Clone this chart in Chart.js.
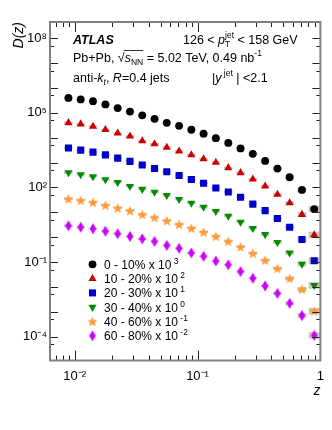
<!DOCTYPE html>
<html><head><meta charset="utf-8">
<script src="https://cdn.jsdelivr.net/npm/chart.js@4.4.1/dist/chart.umd.min.js"></script>
<style>html,body{margin:0;padding:0;background:#fff;}canvas{display:block;}</style>
</head><body>
<canvas id="c" width="332" height="430"></canvas>
<script>
// ---------------- data ----------------
const zValues = [0.0089,0.0112,0.0141,0.0178,0.0224,0.0282,0.0355,0.0447,0.0562,0.0708,0.0891,0.112,0.141,0.178,0.224,0.282,0.355,0.447,0.562,0.708,0.891];
const cent0_10  = [398000,347000,295000,219000,155000,112000,79400,57500,39800,30200,20900,14500,9550,6170,3720,2240,1170,575,257,79.4,13.5];
const cent10_20 = [39800,35500,28200,20900,15100,11500,7410,5620,4070,2880,2040,1410,1020,617,389,214,112,52.5,24.0,8.13,1.23];
const cent20_30 = [3890,3160,2630,2040,1510,1120,794,575,427,302,209,148,95.5,66.1,40.7,21.4,11.7,5.62,2.51,0.813,0.112];
const cent30_40 = [398,331,275,209,162,112,85.1,64.6,47.9,33.1,23.4,16.2,11.0,7.08,4.07,2.29,1.29,0.617,0.234,0.0832,0.0115];
const cent40_60 = [34.7,30.2,25.1,19.1,14.8,11.5,8.13,6.17,4.57,3.24,2.29,1.58,1.07,0.676,0.407,0.224,0.117,0.055,0.0219,0.00794,0.00107];
const cent60_80 = [2.88,2.51,2.19,1.74,1.38,1.07,0.851,0.676,0.468,0.355,0.234,0.170,0.110,0.0776,0.0417,0.0224,0.0110,0.0055,0.00219,0.000708,0.000112];
const sysRel = [0.12,0.1,0.1,0.1,0.1,0.1,0.1,0.1,0.1,0.1,0.1,0.1,0.1,0.1,0.1,0.12,0.12,0.14,0.18,0.25,0.35];
const seriesLabels = ['0 - 10% x 10','10 - 20% x 10','20 - 30% x 10','30 - 40% x 10','40 - 60% x 10','60 - 80% x 10'];
const seriesExponents = ['3','2','1','0','-1','-2'];
const xTickValues = [0.01,0.1,1];
const xTickLabels = ['10\u207B\u00B2','10\u207B\u00B9','1'];
const yTickValues = [1e8,1e5,1e2,1e-1,1e-4];
const yTickLabels = ['10\u2078','10\u2075','10\u00B2','10\u207B\u00B9','10\u207B\u2074'];

// ---------------- styles ----------------
const FONT = "'Liberation Sans', Arial, Helvetica, sans-serif";
Chart.defaults.font.family = FONT;

function makeStar(color){
  const c = document.createElement('canvas'); c.width = 12; c.height = 12;
  const g = c.getContext('2d'); g.fillStyle = color; g.beginPath();
  for (let k=0;k<10;k++){
    const r = k%2===0 ? 5.4 : 2.3;
    const a = -Math.PI/2 + k*Math.PI/5;
    const px = 6 + r*Math.cos(a), py = 6.4 + r*Math.sin(a);
    if (k===0) g.moveTo(px,py); else g.lineTo(px,py);
  }
  g.closePath(); g.fill(); return c;
}
function makeDiamond(color){
  const c = document.createElement('canvas'); c.width = 8; c.height = 12;
  const g = c.getContext('2d'); g.fillStyle = color; g.beginPath();
  g.moveTo(4,0.5); g.lineTo(7.3,6); g.lineTo(4,11.5); g.lineTo(0.7,6); g.closePath(); g.fill();
  return c;
}
const colors = ['#000000','#cc0000','#0000cc','#008c00','#ff9933','#cc00ff'];
const styles = [
  {pointStyle:'circle', radius:3.9, rotation:0},
  {pointStyle:'triangle', radius:4.7, rotation:0},
  {pointStyle:'rect', radius:5.0, rotation:0},
  {pointStyle:'triangle', radius:4.7, rotation:180},
  {pointStyle:makeStar(colors[4]), radius:5, rotation:0},
  {pointStyle:makeDiamond(colors[5]), radius:5, rotation:0}
];
const seriesValues = [cent0_10,cent10_20,cent20_30,cent30_40,cent40_60,cent60_80];

const datasets = seriesValues.map((vals,i)=>({
  label: seriesLabels[i],
  data: zValues.map((z,j)=>({x:z, y:vals[j]})),
  pointStyle: styles[i].pointStyle,
  pointRadius: styles[i].radius,
  pointRotation: styles[i].rotation,
  backgroundColor: colors[i],
  borderColor: colors[i],
  borderWidth: 0,
  showLine: false
}));

function drawRich(ctx, x, y, parts, size){
  let maxAdv = 0;
  for (const p of parts){
    const s = size*(p.s||1);
    ctx.font = (p.i?'italic ':'') + (p.b?'bold ':'') + s + 'px ' + FONT;
    ctx.fillText(p.t, x, y + (p.dy||0));
    const w = ctx.measureText(p.t).width;
    if (p.hold){ maxAdv = Math.max(maxAdv, w); continue; }
    x += Math.max(w, maxAdv) + (p.gap||0); maxAdv = 0;
  }
  return x;
}
function drawMarker(ctx, i, x, y){
  ctx.save();
  ctx.fillStyle = colors[i]; ctx.strokeStyle = colors[i];
  const st = styles[i];
  if (typeof st.pointStyle !== 'string'){
    const im = st.pointStyle; ctx.drawImage(im, x - im.width/2, y - im.height/2);
  } else {
    Chart.helpers.drawPoint(ctx, {pointStyle:st.pointStyle, radius:st.radius, rotation:st.rotation, borderWidth:0}, x, y);
  }
  ctx.restore();
}

const atlasPlugin = {
  id:'atlasDecor',
  beforeDatasetsDraw(chart){
    const ctx = chart.ctx, xs = chart.scales.x, ys = chart.scales.y;
    ctx.save();
    ctx.fillStyle = '#cdc4bb';
    seriesValues.forEach(vals=>{
      vals.forEach((v,j)=>{
        const hw = j===zValues.length-1 ? 1.11 : 1.085;
        const x1 = xs.getPixelForValue(zValues[j]/hw), x2 = xs.getPixelForValue(zValues[j]*hw);
        const y1 = ys.getPixelForValue(v*(1+sysRel[j])), y2 = ys.getPixelForValue(v/(1+sysRel[j]));
        ctx.fillRect(x1, y1, x2-x1, y2-y1);
      });
    });
    ctx.restore();
  },
  afterDatasetsDraw(chart){
    const ctx = chart.ctx, xs = chart.scales.x, ys = chart.scales.y, a = chart.chartArea;
    ctx.save();
    // ticks
    ctx.strokeStyle = '#222'; ctx.lineWidth = 1;
    ctx.beginPath();
    for (let d=-3; d<=0; d++){
      for (let m=1; m<=9; m++){
        const v = m*Math.pow(10,d);
        if (v < xs.min || v > xs.max*1.0001) continue;
        const px = Math.round(xs.getPixelForValue(v)) + 0.5;
        const L = m===1 ? 10 : 5;
        ctx.moveTo(px, a.bottom); ctx.lineTo(px, a.bottom - L);
        ctx.moveTo(px, a.top); ctx.lineTo(px, a.top + L);
      }
    }
    for (let d=-6; d<=9; d++){
      for (const m of [1,5]){
        const v = m*Math.pow(10,d);
        if (v < ys.min || v > ys.max) continue;
        const py = Math.round(ys.getPixelForValue(v)) + 0.5;
        const L = m===1 ? 8 : 4;
        ctx.moveTo(a.left, py); ctx.lineTo(a.left + L, py);
        ctx.moveTo(a.right, py); ctx.lineTo(a.right - L, py);
      }
    }
    ctx.stroke();
    // frame
    ctx.strokeStyle = '#808080'; ctx.lineWidth = 2;
    ctx.strokeRect(a.left, a.top, a.right - a.left, a.bottom - a.top);

    // header text
    ctx.fillStyle = '#000'; ctx.textBaseline = 'alphabetic'; ctx.textAlign = 'left';
    drawRich(ctx, 73, 43.5, [{t:'ATLAS', b:true, i:true}], 12.5);
    drawRich(ctx, 183, 43.5, [
      {t:'126 < '}, {t:'p', i:true}, {t:'T', s:0.68, dy:3.5, hold:true}, {t:'jet', s:0.68, dy:-6},
      {t:' < 158 GeV'}], 12.5);
    let x = drawRich(ctx, 73, 61.5, [{t:'Pb+Pb, '}, {t:'\u221A', gap:0}], 12.5);
    const xs0 = x;
    x = drawRich(ctx, x, 61.5, [{t:'s', i:true}, {t:'NN', s:0.68, dy:3}], 12.5);
    ctx.lineWidth = 0.8; ctx.strokeStyle = '#000';
    ctx.beginPath(); ctx.moveTo(xs0-1, 50.5); ctx.lineTo(x, 50.5); ctx.stroke();
    drawRich(ctx, x, 61.5, [{t:' = 5.02 TeV, 0.49 nb'}, {t:'-1', s:0.68, dy:-5.5}], 12.5);
    drawRich(ctx, 73, 81.5, [{t:'anti-'}, {t:'k', i:true}, {t:'t', i:true, s:0.68, dy:3}, {t:', '}, {t:'R', i:true}, {t:'=0.4 jets'}], 12.5);
    drawRich(ctx, 212, 81.5, [{t:'|'}, {t:'y', i:true}, {t:' jet', s:0.68, dy:-6}, {t:' | <2.1'}], 12.5);

    // legend
    const rowY0 = 264.3, dyRow = 14.3;
    seriesLabels.forEach((lab,i)=>{
      const cy = rowY0 + i*dyRow;
      drawMarker(ctx, i, 92.5, cy);
      ctx.fillStyle = '#000';
      drawRich(ctx, 104, cy + 4.3, [{t:lab}, {t:' ' + seriesExponents[i], s:0.7, dy:-5}], 12);
    });
    ctx.restore();
  }
};

new Chart(document.getElementById('c'), {
  type:'scatter',
  data:{datasets},
  options:{
    responsive:false, animation:false, devicePixelRatio:1,
    layout:{padding:{top:22, right:9, left:0, bottom:0}},
    plugins:{legend:{display:false}, tooltip:{enabled:false}},
    scales:{
      x:{
        type:'logarithmic', min:0.0063, max:1,
        grid:{display:false, drawTicks:false}, border:{display:false},
        afterBuildTicks:(s)=>{ s.ticks = xTickValues.map(v=>({value:v})); },
        afterFit:(s)=>{ s.height = 69.5; },
        ticks:{autoSkip:false, maxRotation:0, minRotation:0, padding:8, color:'#000', font:{size:13},
          callback:(v)=>{ const k = xTickValues.findIndex(t=>Math.abs(Math.log10(t)-Math.log10(v))<1e-6); return k>=0 ? xTickLabels[k] : ''; }},
        title:{display:true, text:'z', align:'end', color:'#000', font:{size:14, style:'italic'}, padding:{top:0, bottom:30}}
      },
      y:{
        type:'logarithmic', min:1.1e-5, max:4.5e8,
        grid:{display:false, drawTicks:false}, border:{display:false},
        afterBuildTicks:(s)=>{ s.ticks = yTickValues.map(v=>({value:v})); },
        afterFit:(s)=>{ s.width = 50; },
        ticks:{autoSkip:false, padding:3, color:'#000', font:{size:13},
          callback:(v)=>{ const k = yTickValues.findIndex(t=>Math.abs(Math.log10(t)-Math.log10(v))<1e-6); return k>=0 ? yTickLabels[k] : ''; }},
        title:{display:true, text:'D(z)', align:'end', color:'#000', font:{size:14, style:'italic'}, padding:{top:11, bottom:0}}
      }
    }
  },
  plugins:[atlasPlugin]
});
</script>
</body></html>
